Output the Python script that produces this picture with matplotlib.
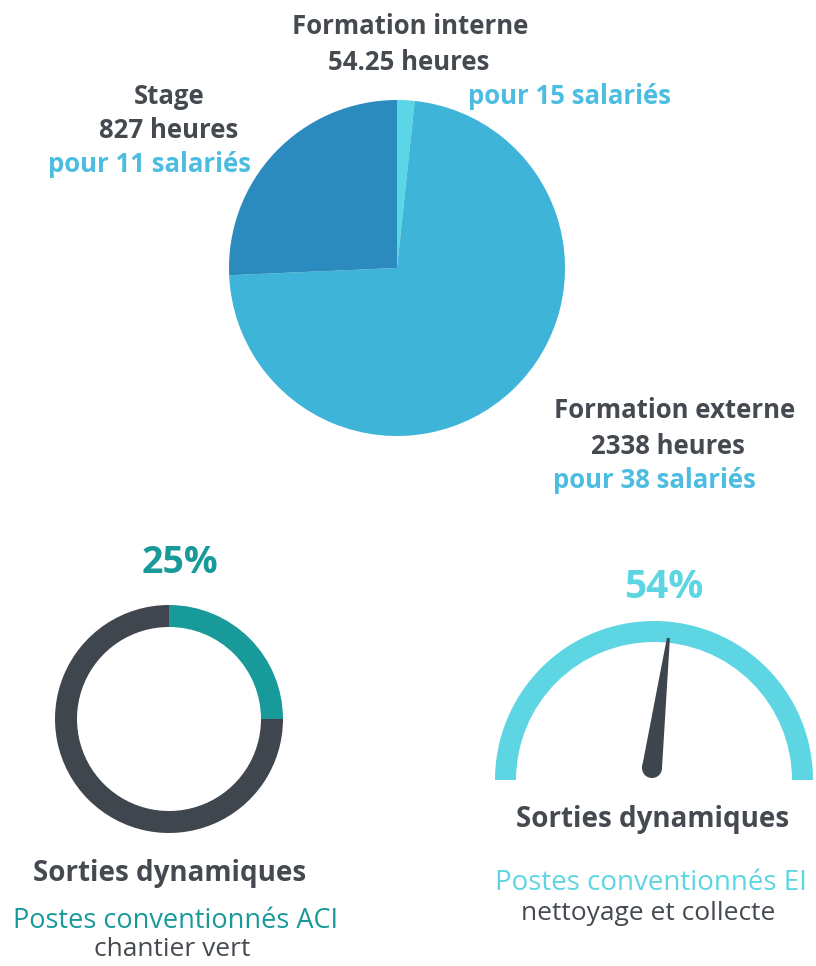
import matplotlib.pyplot as plt
from matplotlib.patches import Wedge, Polygon, Circle
import numpy as np

plt.rcParams['font.family'] = ['Open Sans', 'DejaVu Sans']

# data
pie_labels = ["Formation interne", "Formation externe", "Stage"]
pie_hours = [54.25, 2338, 827]
pie_people = [15, 38, 11]
pie_colors = ["#5ad6e6", "#3db4d8", "#2b8bbf"]

donut_value = 25      # %
gauge_value = 54      # %

dark = "#454a50"
light_blue = "#4cbde0"
teal = "#18999a"
cyan = "#5dd5e2"

W, H = 816, 966
fig = plt.figure(figsize=(W / 100, H / 100), dpi=100)
ax = fig.add_axes([0, 0, 1, 1])


def Y(p):
    # ligne pixel -> y des données
    return H - p


# Camembert principal
ax.pie(pie_hours, colors=pie_colors, startangle=90, counterclock=False,
       center=(397, Y(268)), radius=168, wedgeprops=dict(linewidth=0))

# Anneau ACI
ax.pie([donut_value, 100 - donut_value], colors=[teal, "#40464e"],
       startangle=90, counterclock=False, center=(169, Y(719)), radius=114,
       wedgeprops=dict(width=22, linewidth=0))

# Jauge EI
gc = (654, Y(780))
ax.add_patch(Wedge(gc, 159, 0, 180, width=21, color=cyan, lw=0))
ang = np.radians(180 - 180 * gauge_value / 100)
pivot = np.array([652, Y(768)])
d = np.array([np.cos(ang), np.sin(ang)])
n = np.array([-d[1], d[0]])
tip = pivot + 131 * d
hw = 10
ax.add_patch(Polygon([pivot + hw * n, tip + 1.5 * n, tip - 1.5 * n, pivot - hw * n],
                     closed=True, color="#3f454d", lw=0))
ax.add_patch(Circle(pivot, hw, color="#3f454d", lw=0))

# Textes du camembert
bold = dict(fontweight="bold", ha="center", va="center", fontsize=18.5)
# (x titre, y titre, x heures, y heures, x salariés, y salariés)
pos = {0: (410, 26, 409, 63, 570, 97),
       1: (675, 411, 668, 446, 654, 480),
       2: (169, 97, 169, 131, 150, 165)}
for i, name in enumerate(pie_labels):
    x1, y1, x2, y2, x3, y3 = pos[i]
    ax.text(x1, Y(y1), name, color=dark, **bold)
    ax.text(x2, Y(y2), f"{pie_hours[i]:g} heures", color=dark, **bold)
    ax.text(x3, Y(y3), f"pour {pie_people[i]} salariés", color=light_blue, **bold)

# Textes anneau
ax.text(180, Y(563), f"{donut_value}%", color=teal, fontsize=27, fontweight="bold",
        ha="center", va="center")
ax.text(170, Y(873), "Sorties dynamiques", color=dark, fontsize=20, fontweight="bold",
        ha="center", va="center")
ax.text(176, Y(921), "Postes conventionnés ACI", color=teal, fontsize=19.5,
        ha="center", va="center")
ax.text(172, Y(949), "chantier vert", color=dark, fontsize=19,
        ha="center", va="center")

# Textes jauge
ax.text(664, Y(588), f"{gauge_value}%", color=cyan, fontsize=28, fontweight="bold",
        ha="center", va="center")
ax.text(653, Y(819), "Sorties dynamiques", color=dark, fontsize=20, fontweight="bold",
        ha="center", va="center")
ax.text(495, Y(883), "Postes conventionnés EI", color=cyan, fontsize=20,
        ha="left", va="center")
ax.text(648, Y(914), "nettoyage et collecte", color=dark, fontsize=19,
        ha="center", va="center")

ax.set_xlim(0, W)
ax.set_ylim(0, H)
ax.set_aspect("equal")
ax.axis("off")

plt.savefig("out.png", dpi=100)
